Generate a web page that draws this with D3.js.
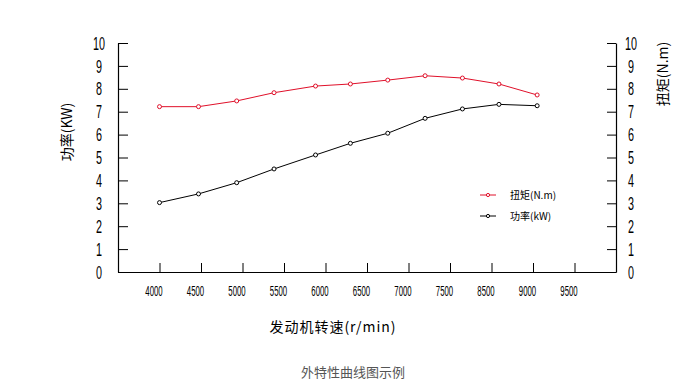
<!DOCTYPE html>
<html><head><meta charset="utf-8">
<script src="https://cdn.jsdelivr.net/npm/d3@7/dist/d3.min.js"></script>
<style>
body{margin:0;background:#fff;}
svg{display:block;}
.ax text{font-family:"Liberation Sans",sans-serif;fill:#000;}
</style></head>
<body><svg id="c" width="698" height="392"></svg>
<script>
const rpm = [4000, 4470, 4930, 5380, 5880, 6300, 6750, 7200, 7650, 8090, 8550];
const torque = [7.22, 7.22, 7.47, 7.83, 8.12, 8.21, 8.38, 8.57, 8.47, 8.21, 7.73];
const power = [3.03, 3.41, 3.90, 4.50, 5.11, 5.62, 6.06, 6.71, 7.12, 7.32, 7.26];
const xTickValues = [4000, 4500, 5000, 5500, 6000, 6500, 7000, 7500, 8000, 8500, 9000];
const xTickLabels = ["4000","4500","5000","5500","6000","6500","7000","7500","8500","9000","9500"];
const yTicks = [0,1,2,3,4,5,6,7,8,9,10];

const svg = d3.select("#c");
const L = 118, R = 616, T = 43, B = 272;
const x = d3.scaleLinear().domain([3500, 9500]).range([L, R]);
const y = d3.scaleLinear().domain([0, 10]).range([B, T]);
const sy = 0.6, sx = 0.52;

// left axis
const gl = svg.append("g").attr("class","ax").attr("transform",`translate(${L},0)`)
  .call(d3.axisLeft(y).tickValues(yTicks).tickSizeInner(-10).tickSizeOuter(0).tickFormat(d3.format("d")));
gl.selectAll("text").attr("x",-19/sy).attr("dy","0.34em").attr("text-anchor","middle")
  .attr("transform",`scale(${sy},1)`).style("font-size","18px");
// right axis
const gr = svg.append("g").attr("class","ax").attr("transform",`translate(${R},0)`)
  .call(d3.axisRight(y).tickValues(yTicks).tickSizeInner(-9).tickSizeOuter(0).tickFormat(d3.format("d")));
gr.selectAll("text").attr("x",15/sy).attr("dy","0.34em").attr("text-anchor","middle")
  .attr("transform",`scale(${sy},1)`).style("font-size","18px");
// bottom axis
const gb = svg.append("g").attr("class","ax").attr("transform",`translate(0,${B})`)
  .call(d3.axisBottom(x).tickValues(xTickValues).tickSizeInner(-9).tickSizeOuter(0).tickFormat((d,i)=>xTickLabels[i]));
gb.selectAll("text").attr("x",-6/sx).attr("y",13).attr("transform",`scale(${sx},1)`).style("font-size","15px");
svg.selectAll(".ax path, .ax line").attr("stroke","#000").attr("stroke-width",1);
svg.selectAll(".ax .domain").attr("stroke-width",1.2);

const line = d3.line().x((d,i)=>x(rpm[i])).y(d=>y(d));
const series = [{v:torque,c:"#e0102a"},{v:power,c:"#000"}];
series.forEach(s=>{
  svg.append("path").attr("d",line(s.v)).attr("fill","none").attr("stroke",s.c).attr("stroke-width",1);
  svg.append("g").selectAll("circle").data(s.v).join("circle")
    .attr("cx",(d,i)=>x(rpm[i])).attr("cy",d=>y(d)).attr("r",2)
    .attr("fill","#fff").attr("stroke",s.c).attr("stroke-width",1);
});

// legend
const leg = [{t:"扭矩(N.m)",c:"#e0102a",yy:195},{t:"功率(kW)",c:"#000",yy:216}];
leg.forEach(l=>{
  svg.append("line").attr("x1",480).attr("x2",496).attr("y1",l.yy).attr("y2",l.yy).attr("stroke",l.c);
  svg.append("circle").attr("cx",488).attr("cy",l.yy).attr("r",1.6).attr("fill","#fff").attr("stroke",l.c);
  svg.append("text").attr("x",510).attr("y",l.yy+4).text(l.t)
    .style("font-family","'Noto Sans CJK SC',sans-serif").style("font-size","10px").attr("fill","#000");
});

// axis titles
svg.append("text").attr("x",333).attr("y",332).attr("text-anchor","middle").text("发动机转速(r/min)")
  .style("font-family","'Noto Sans CJK SC',sans-serif").style("font-size","14px").style("letter-spacing","1px");
svg.append("text").attr("transform","translate(72,132) rotate(-90)").attr("text-anchor","middle").text("功率(KW)")
  .style("font-family","'Noto Sans CJK SC',sans-serif").style("font-size","14px");
svg.append("text").attr("transform","translate(668,74) rotate(-90)").attr("text-anchor","middle").text("扭矩(N.m)")
  .style("font-family","'Noto Sans CJK SC',sans-serif").style("font-size","14px");

// caption
svg.append("text").attr("x",353).attr("y",377).attr("text-anchor","middle").text("外特性曲线图示例")
  .style("font-family","'Noto Sans CJK SC',sans-serif").style("font-size","13px").attr("fill","#555");
</script></body></html>
